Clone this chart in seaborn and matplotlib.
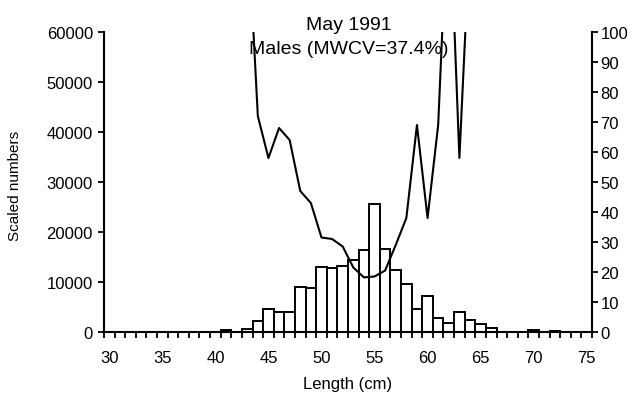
import matplotlib
matplotlib.use("Agg")
import matplotlib.pyplot as plt
import seaborn as sns
import numpy as np
import pandas as pd

# ---- data ----
lengths = list(range(30, 76))
counts = [0, 0, 0, 0, 0, 0, 0, 0, 0, 0,          # 30-39
          0, 500, 0, 700, 2300, 4600, 4000, 4000, 9000, 8900,   # 40-49
          13000, 12800, 13300, 14400, 16500, 25600, 16700, 12400, 9600, 4700,  # 50-59
          7300, 2800, 1900, 4100, 2500, 1600, 900, 0, 0, 0,     # 60-69
          450, 0, 150, 0, 0, 0]                                  # 70-75

cv_lengths = [43, 44, 45, 46, 47, 48, 49, 50, 51, 52, 53, 54, 55, 56, 57, 58, 59, 60, 61, 62, 63, 64]
cv_values = [140, 72, 58, 68, 64, 47, 43, 31.5, 31, 28.5, 21.5, 18.2, 18.5, 20.5, 29, 38, 69, 38, 69, 150, 58, 133]

x_tick_vals = [30, 35, 40, 45, 50, 55, 60, 65, 70, 75]
left_ticks = [0, 10000, 20000, 30000, 40000, 50000, 60000]
right_ticks = [0, 10, 20, 30, 40, 50, 60, 70, 80, 90, 100]

title_lines = ["May 1991", "Males (MWCV=37.4%)"]

# ---- style ----
sns.set_style("ticks", {"axes.edgecolor": "black", "text.color": "black",
                        "xtick.color": "black", "ytick.color": "black",
                        "axes.labelcolor": "black"})
plt.rcParams['font.family'] = ['Liberation Sans', 'DejaVu Sans']

fig = plt.figure(figsize=(6.32, 4.02), dpi=100)
ax = fig.add_axes([104/632, 1-333/402, 488/632, 300/402])

df = pd.DataFrame({"Length": lengths, "Count": counts})
sns.barplot(data=df, x="Length", y="Count", native_scale=True, width=1.0,
            color="white", edgecolor="black", linewidth=1.4, ax=ax, zorder=2)

ax.set_xlim(29.5, 75.5)
ax.set_ylim(0, 60000)
ax.set_xticks(x_tick_vals)
ax.set_xticklabels([str(v) for v in x_tick_vals])
ax.set_xticks(np.arange(29.5, 76, 1.0), minor=True)
ax.tick_params(axis='x', which='major', length=0, pad=13, labelsize=12)
ax.tick_params(axis='x', which='minor', length=4, width=1.3, direction='out')
ax.set_yticks(left_ticks)
ax.set_yticklabels([str(v) for v in left_ticks])
ax.tick_params(axis='y', which='major', length=4, width=1.3, pad=4, labelsize=12)

ax.set_xlabel("Length (cm)", fontsize=12, labelpad=8)
ax.set_ylabel("Scaled numbers", fontsize=11)
ax.yaxis.set_label_coords(-0.168, 0.49)

for s in ['left', 'bottom']:
    ax.spines[s].set_linewidth(1.5)
ax.spines['top'].set_visible(False)
ax.spines['right'].set_visible(False)

ax2 = ax.twinx()
sns.lineplot(x=cv_lengths, y=cv_values, ax=ax2, color="black", linewidth=1.5)
ax2.set_ylim(0, 100)
ax2.set_yticks(right_ticks)
ax2.set_yticklabels([str(v) for v in right_ticks])
ax2.tick_params(axis='y', which='major', length=4, width=1.3, pad=2, labelsize=12)
ax2.spines['right'].set_linewidth(1.5)
ax2.spines['top'].set_visible(False)
ax2.spines['left'].set_visible(False)
ax2.spines['bottom'].set_visible(False)
ax2.set_ylabel("")

fig.text(349/632, 1-25/402, title_lines[0], ha='center', va='center', fontsize=14, color='black')
fig.text(349/632, 1-50/402, title_lines[1], ha='center', va='center', fontsize=14, color='black')

fig.savefig("out.png", dpi=100)
